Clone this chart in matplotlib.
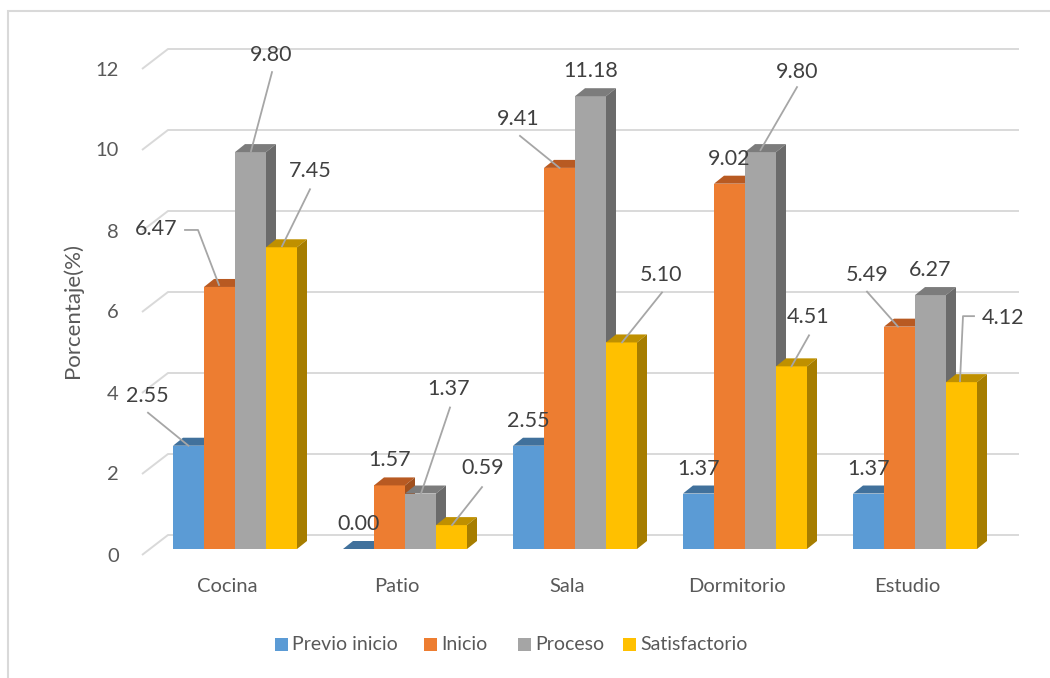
import matplotlib
matplotlib.use("Agg")
import matplotlib.pyplot as plt
from matplotlib.patches import Polygon, Rectangle

# ---------------- data ----------------
categories = ["Cocina", "Patio", "Sala", "Dormitorio", "Estudio"]
series_names = ["Previo inicio", "Inicio", "Proceso", "Satisfactorio"]
previo_inicio = [2.55, 0.00, 2.55, 1.37, 1.37]
inicio = [6.47, 1.57, 9.41, 9.02, 5.49]
proceso = [9.80, 1.37, 11.18, 9.80, 6.27]
satisfactorio = [7.45, 0.59, 5.10, 4.51, 4.12]
y_ticks = [0, 2, 4, 6, 8, 10, 12]
y_label = "Porcentaje(%)"

series_values = [previo_inicio, inicio, proceso, satisfactorio]

# ---------------- style ----------------
front_cols = ["#5B9BD5", "#ED7D31", "#A5A5A5", "#FFC000"]
top_cols = ["#41719C", "#B85A22", "#7C7C7C", "#BF9000"]
side_cols = ["#3A6690", "#A0501E", "#6B6B6B", "#A67D00"]
grid_col = "#D9D9D9"
text_col = "#404040"
tick_col = "#595959"
FONT = "Lato"

W, H = 1050, 678
PX_X = 170.0   # pixels per category unit
PX_Y = 40.5    # pixels per value unit

fig = plt.figure(figsize=(W / 100, H / 100), dpi=100)
ax = fig.add_axes([0, 0, 1, 1])
ax.set_xlim(-235 / PX_X, (W - 235) / PX_X)
ax.set_ylim((549 - H) / PX_Y, 549 / PX_Y)
ax.axis("off")

def dx(p):
    return p / PX_X

def dy(p):
    return -p / PX_Y

# outer border (partially cropped)
fig.patches.append(Rectangle((8 / W, -0.05), 1.2, (H - 11) / H + 0.05,
                             transform=fig.transFigure, fill=False,
                             edgecolor=grid_col, linewidth=1.5))

# gridlines: back wall + left wall diagonal
back_x0, back_x1, left_x = dx(168 - 235), dx(1019 - 235), dx(142 - 235)
for v in y_ticks:
    yb = v + 14 / PX_Y
    yf = v - 6 / PX_Y
    ax.plot([left_x, back_x0, back_x1], [yf, yb, yb], color=grid_col,
            lw=1.4, solid_capstyle="butt", zorder=1)
    ax.text(dx(119 - 235), v - 7 / PX_Y, f"{v}", ha="right", va="center",
            fontsize=14.5, color=tick_col, family=FONT)

ax.text(dx(73 - 235), dy(311 - 549), y_label, rotation=90, ha="center",
        va="center", fontsize=16, color=tick_col, family=FONT)

# bars
n = len(series_names)
bw = dx(31)
gw = bw * n
ddx, ddy = dx(10), 8 / PX_Y
for i, cat in enumerate(categories):
    for j in range(n):
        v = series_values[j][i]
        x0 = i - gw / 2 + j * bw
        x1 = x0 + bw
        z = 2 + j
        ax.add_patch(Polygon([(x0, 0), (x1, 0), (x1, v), (x0, v)],
                             closed=True, facecolor=front_cols[j],
                             edgecolor="none", zorder=z))
        ax.add_patch(Polygon([(x0, v), (x1, v), (x1 + ddx, v + ddy),
                              (x0 + ddx, v + ddy)], closed=True,
                             facecolor=top_cols[j], edgecolor="none", zorder=z))
        ax.add_patch(Polygon([(x1, 0), (x1 + ddx, ddy), (x1 + ddx, v + ddy),
                              (x1, v)], closed=True, facecolor=side_cols[j],
                             edgecolor="none", zorder=z))
    ax.text(i - dx(8), dy(587 - 549), cat, ha="center", va="center",
            fontsize=14.5, color=tick_col, family=FONT)

# data labels: default offset above bar; some moved with leader lines
# (series, category): (label offset px, leader points px) relative to bar top
moved = {
    (0, 0): ((-41.5, -50), [(-40.5, -33), (0, 0)]),
    (1, 0): ((-63.5, -58), [(-34.5, -57), (-21.5, -57), (-0.5, -2)]),
    (2, 0): ((20.5, -97), [(21.5, -80), (0.5, -1)]),
    (3, 0): ((28.5, -76), [(28.5, -58), (0.5, -1)]),
    (2, 1): ((28.5, -105), [(29.5, -86), (0.5, 0)]),
    (3, 1): ((31.5, -57), [(30.5, -38), (0.5, 0)]),
    (1, 2): ((-41.5, -49), [(-39.5, -32), (0, 0)]),
    (3, 2): ((39.5, -67), [(40.5, -50), (0.5, 0)]),
    (2, 3): ((36.5, -80), [(36.5, -65), (0, -2)]),
    (3, 3): ((16.5, -49), [(17.5, -31), (0, 0)]),
    (1, 4): ((-32.5, -52), [(-32.5, -35), (-1.5, 0)]),
    (3, 4): ((41.5, -64), [(12.5, -66), (1.5, -66), (-1.5, -1)]),
}
for i in range(len(categories)):
    for j in range(n):
        v = series_values[j][i]
        ax_x = i - gw / 2 + (j + 0.5) * bw
        off, leader = moved.get((j, i), ((0, -25), None))
        ax.text(ax_x + dx(off[0]), v + dy(off[1]), f"{v:.2f}", ha="center",
                va="center", fontsize=15.5, color=text_col, family=FONT,
                zorder=10)
        if leader:
            ax.plot([ax_x + dx(p[0]) for p in leader],
                    [v + dy(p[1]) for p in leader], color="#A6A6A6",
                    lw=1.3, zorder=9)

# legend
leg_y = dy(644 - 549)
leg_sq = [275, 424, 518, 623]
for j, name in enumerate(series_names):
    xs = dx(leg_sq[j] - 235)
    ax.add_patch(Rectangle((xs, leg_y - 6.5 / PX_Y), dx(13), 13 / PX_Y,
                           facecolor=front_cols[j], edgecolor="none"))
    ax.text(xs + dx(17), leg_y, name, ha="left", va="center", fontsize=14,
            color=tick_col, family=FONT)

fig.savefig("out.png", dpi=100)
